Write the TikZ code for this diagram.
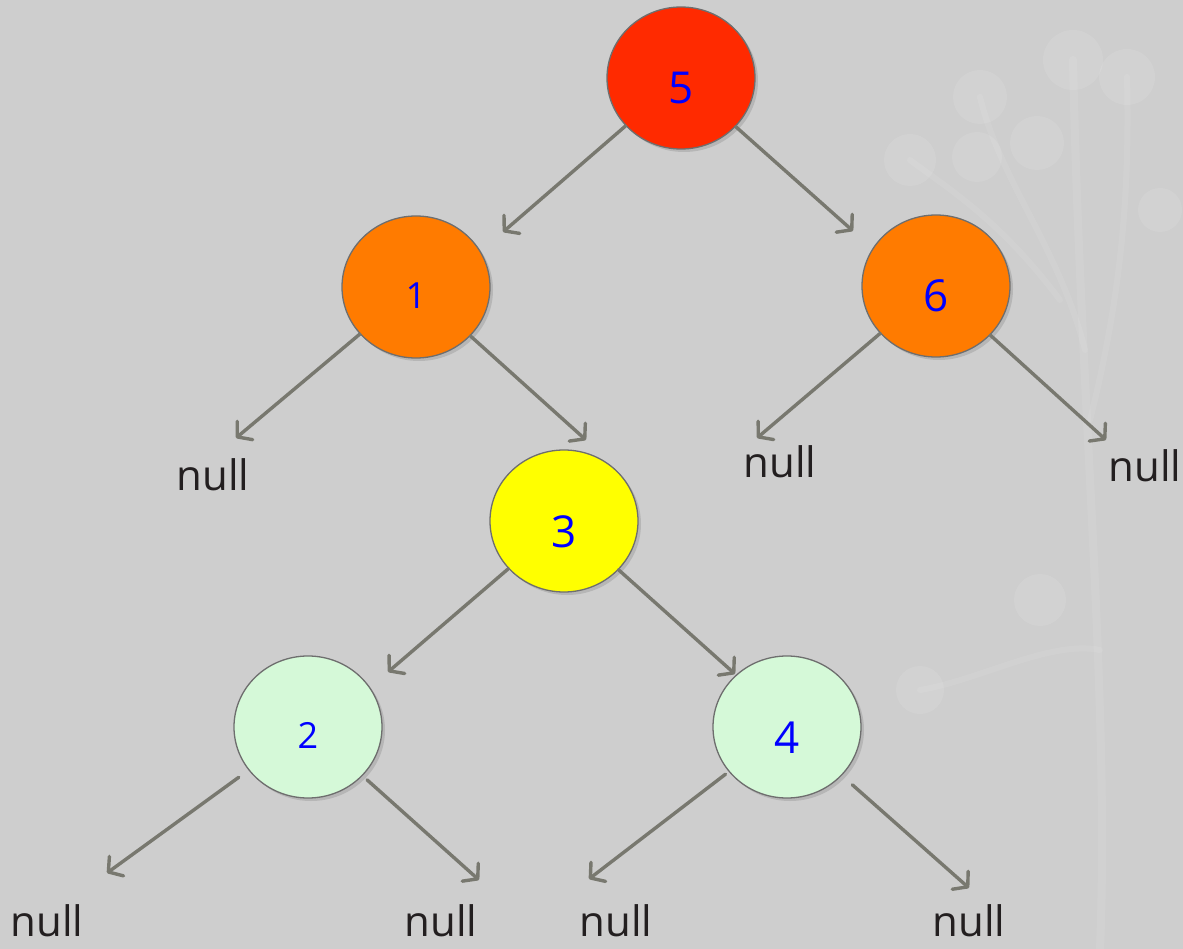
\documentclass[tikz,border=0pt]{standalone}
\usepackage{fontspec}
\setmainfont{Open Sans}
\usetikzlibrary{arrows.meta,shapes.geometric,shadows}
\definecolor{bg}{HTML}{CECECE}
\definecolor{edgegrey}{HTML}{78786F}
\definecolor{rimgrey}{HTML}{6E6E6E}
\definecolor{cred}{HTML}{FF2A00}
\definecolor{corange}{HTML}{FF7B00}
\definecolor{cyellow}{HTML}{FFFF00}
\definecolor{cgreen}{HTML}{D5F9D8}
\definecolor{txt}{HTML}{231F20}
\tikzset{
  treenode/.style={ellipse, draw=rimgrey, line width=1.3pt, minimum width=148pt, minimum height=142pt,
    inner sep=0pt, text=blue, font=\fontsize{44}{44}\selectfont, text height=52pt, text depth=0pt,
    drop shadow={opacity=0.3, shadow xshift=3pt, shadow yshift=-3pt}},
  smalldigit/.style={font=\fontsize{36}{36}\selectfont, text height=43pt},
  nulltxt/.style={text=txt, font=\fontsize{42}{42}\selectfont, inner sep=0pt},
  link/.style={draw=edgegrey, line width=3.4pt, line cap=round,
    -{Straight Barb[length=10pt,width=24pt,line cap=round,line join=round]}},
  deco/.style={fill=white, opacity=0.09}
}
\begin{document}
\begin{tikzpicture}[x=1pt,y=-1pt]
\fill[bg] (0,0) rectangle (1183,949);
\useasboundingbox (0,0) rectangle (1183,949);
% faint plant decoration
\draw[white, opacity=0.08, line width=8pt, line cap=round] (1100,949) .. controls (1110,700) and (1080,400) .. (1073,60);
\draw[white, opacity=0.08, line width=6pt, line cap=round] (1085,350) .. controls (1060,250) and (1000,180) .. (980,97);
\draw[white, opacity=0.08, line width=6pt, line cap=round] (1090,420) .. controls (1120,300) and (1130,200) .. (1127,77);
\draw[white, opacity=0.07, line width=6pt, line cap=round] (1060,300) .. controls (1000,220) and (950,190) .. (910,160);
\draw[white, opacity=0.07, line width=6pt, line cap=round] (1100,650) .. controls (1050,640) and (980,680) .. (920,690);
\fill[deco] (1073,60) circle (30);
\fill[deco] (1127,77) circle (28);
\fill[deco] (980,97) circle (27);
\fill[deco] (910,160) circle (26);
\fill[deco] (977,157) circle (25);
\fill[deco] (1037,143) circle (27);
\fill[deco] (1040,600) circle (26);
\fill[deco] (920,690) circle (24);
\fill[deco] (1160,210) circle (22);

% nodes
\node[treenode, fill=cred] (n5) at (681,78) {5};
\node[treenode, fill=corange, smalldigit] (n1) at (416,287) {1};
\node[treenode, fill=corange] (n6) at (936,286) {6};
\node[treenode, fill=cyellow] (n3) at (564,521) {3};
\node[treenode, fill=cgreen, smalldigit] (n2) at (308,727) {2};
\node[treenode, fill=cgreen] (n4) at (787,727) {4};

% null labels
\node[nulltxt] (l1) at (213,475) {null};
\node[nulltxt] (l6a) at (780,462) {null};
\node[nulltxt] (l6b) at (1145,466) {null};
\node[nulltxt] (l2a) at (47,921) {null};
\node[nulltxt] (l2b) at (441,921) {null};
\node[nulltxt] (l4a) at (616,921) {null};
\node[nulltxt] (l4b) at (969,921) {null};

% arrow tips
\coordinate (t51) at (503,232);
\coordinate (t56) at (853,231);
\coordinate (t1n) at (236,438);
\coordinate (t13) at (586,440);
\coordinate (t6a) at (757,438);
\coordinate (t6b) at (1106,440);
\coordinate (t32) at (388,672);
\coordinate (t34) at (735,674);
\coordinate (t2a) at (107,873);
\coordinate (t2b) at (479,880);
\coordinate (t4a) at (589,879);
\coordinate (t4b) at (969,888);

% connectors
\draw[link] (n5) -- (t51);
\draw[link] (n5) -- (t56);
\draw[link] (n1) -- (t1n);
\draw[link] (n1) -- (t13);
\draw[link] (n6) -- (t6a);
\draw[link] (n6) -- (t6b);
\draw[link] (n3) -- (t32);
\draw[link] (n3) -- (t34);
\draw[link, shorten <=12pt] (n2) -- (t2a);
\draw[link, shorten <=6pt] (n2) -- (t2b);
\draw[link, shorten <=4pt] (n4) -- (t4a);
\draw[link, shorten <=14pt] (n4) -- (t4b);
\end{tikzpicture}
\end{document}
